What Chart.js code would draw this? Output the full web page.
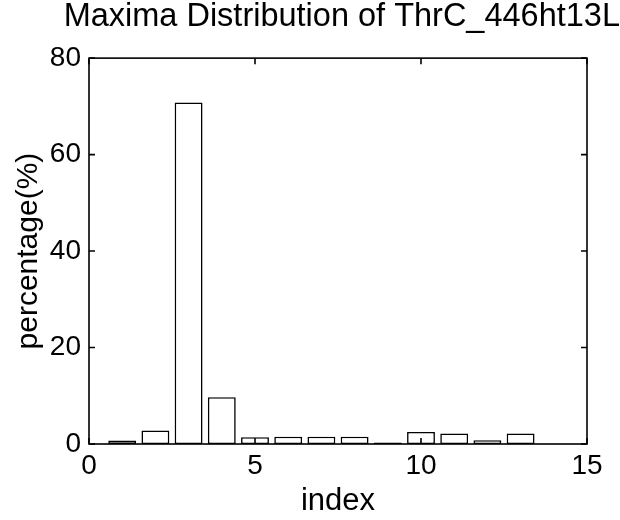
<!DOCTYPE html>
<html>
<head>
<meta charset="utf-8">
<script src="https://cdn.jsdelivr.net/npm/chart.js@4.4.0/dist/chart.umd.min.js"></script>
<style>
  html, body { margin: 0; padding: 0; background: #fff; }
  #wrap { width: 620px; height: 520px; }
</style>
</head>
<body>
<div id="wrap"><canvas id="c" width="620" height="520"></canvas></div>
<script>
// Data
const indices = [1, 2, 3, 4, 5, 6, 7, 8, 9, 10, 11, 12, 13];
const percentages = [0.7, 2.8, 70.8, 9.7, 1.4, 1.5, 1.5, 1.5, 0.3, 2.5, 2.2, 0.8, 2.2];
const xTicks = [0, 5, 10, 15];
const yTicks = [0, 20, 40, 60, 80];
const titleText = 'Maxima Distribution of ThrC_446ht13L';
const xLabel = 'index';
const yLabel = 'percentage(%)';

const FONT = "'Liberation Sans', Arial, Helvetica, sans-serif";

const frameTicks = {
  id: 'frameTicks',
  afterDraw(chart) {
    const { ctx, chartArea: a } = chart;
    const xs = chart.scales.x, ys = chart.scales.y;
    ctx.save();
    ctx.strokeStyle = '#000';
    ctx.lineWidth = 1.6;
    ctx.strokeRect(a.left, a.top, a.right - a.left, a.bottom - a.top);
    const L = 6;
    ctx.beginPath();
    xTicks.forEach(v => {
      const px = xs.getPixelForValue(v);
      ctx.moveTo(px, a.bottom); ctx.lineTo(px, a.bottom - L);
      ctx.moveTo(px, a.top); ctx.lineTo(px, a.top + L);
    });
    yTicks.forEach(v => {
      const py = ys.getPixelForValue(v);
      ctx.moveTo(a.left, py); ctx.lineTo(a.left + L, py);
      ctx.moveTo(a.right, py); ctx.lineTo(a.right - L, py);
    });
    ctx.stroke();
    ctx.restore();
  }
};

new Chart(document.getElementById('c'), {
  type: 'bar',
  data: {
    datasets: [{
      data: indices.map((x, i) => ({ x: x, y: percentages[i] })),
      backgroundColor: '#ffffff',
      borderColor: '#000000',
      borderWidth: 1.6,
      borderSkipped: false,
      categoryPercentage: 1.0,
      barPercentage: 0.84
    }]
  },
  options: {
    responsive: false,
    animation: false,
    layout: { padding: { left: 0, right: 0, top: 0, bottom: 0 } },
    plugins: {
      legend: { display: false },
      tooltip: { enabled: false },
      title: {
        display: true,
        text: titleText,
        align: 'end',
        color: '#000',
        font: { family: FONT, size: 32.5, weight: 'normal', lineHeight: 1.05 },
        padding: { top: 0, bottom: 24 }
      }
    },
    scales: {
      x: {
        type: 'linear',
        offset: false,
        min: 0, max: 15,
        afterBuildTicks(s) { s.ticks = xTicks.map(v => ({ value: v })); },
        afterFit(s) { s.height = 76; },
        grid: { display: false, drawTicks: false, offset: false },
        border: { display: false },
        ticks: { color: '#000', padding: 5, maxRotation: 0, font: { family: FONT, size: 28 } },
        title: { display: true, text: xLabel, color: '#000', padding: { top: 0, bottom: 0 },
                 font: { family: FONT, size: 31 } }
      },
      y: {
        type: 'linear',
        min: 0, max: 80,
        afterBuildTicks(s) { s.ticks = yTicks.map(v => ({ value: v })); },
        afterFit(s) { s.width = 89; },
        grid: { display: false, drawTicks: false },
        border: { display: false },
        ticks: { color: '#000', padding: 8, font: { family: FONT, size: 28 } },
        title: { display: true, text: yLabel, color: '#000', padding: { top: 11, bottom: 0 },
                 font: { family: FONT, size: 30 } }
      },
      y2: {
        type: 'linear',
        position: 'right',
        min: 0, max: 80,
        afterFit(s) { s.width = 33; },
        grid: { display: false, drawTicks: false },
        border: { display: false },
        ticks: { display: false }
      }
    }
  },
  plugins: [frameTicks]
});
</script>
</body>
</html>
